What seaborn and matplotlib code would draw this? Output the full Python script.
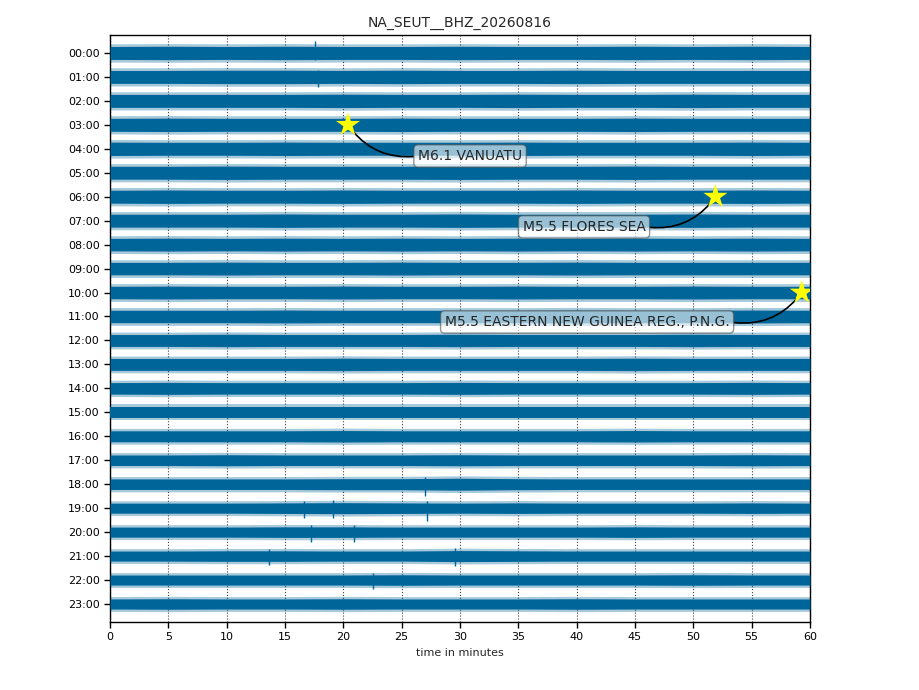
import numpy as np
import pandas as pd
import matplotlib
matplotlib.use("Agg")
import matplotlib.pyplot as plt
import seaborn as sns

# --- data -------------------------------------------------------------------
title = "NA_SEUT__BHZ_20260816"
hour_labels = ["%02d:00" % h for h in range(24)]
knot_minutes = [0, 5, 10, 15, 20, 25, 30, 35, 40, 45, 50, 55, 60]

# half width of the dense core of each hourly trace (in row units), every 5 min
core_width = [
    [0.27, 0.28, 0.27, 0.28, 0.27, 0.27, 0.28, 0.27, 0.27, 0.28, 0.27, 0.28, 0.27],
    [0.27, 0.27, 0.28, 0.28, 0.27, 0.28, 0.27, 0.27, 0.28, 0.27, 0.27, 0.27, 0.27],
    [0.27, 0.27, 0.27, 0.27, 0.28, 0.27, 0.27, 0.28, 0.27, 0.27, 0.28, 0.27, 0.27],
    [0.27, 0.28, 0.27, 0.27, 0.27, 0.28, 0.27, 0.27, 0.27, 0.28, 0.27, 0.27, 0.27],
    [0.28, 0.27, 0.27, 0.28, 0.27, 0.27, 0.27, 0.28, 0.27, 0.27, 0.27, 0.28, 0.27],
    [0.27, 0.27, 0.28, 0.27, 0.27, 0.27, 0.28, 0.27, 0.27, 0.28, 0.27, 0.27, 0.27],
    [0.27, 0.28, 0.27, 0.27, 0.28, 0.27, 0.27, 0.27, 0.28, 0.27, 0.27, 0.28, 0.27],
    [0.27, 0.27, 0.27, 0.28, 0.27, 0.27, 0.28, 0.27, 0.27, 0.27, 0.28, 0.27, 0.27],
    [0.26, 0.27, 0.26, 0.27, 0.26, 0.27, 0.26, 0.27, 0.26, 0.27, 0.26, 0.27, 0.26],
    [0.26, 0.26, 0.27, 0.26, 0.26, 0.27, 0.26, 0.26, 0.27, 0.26, 0.26, 0.26, 0.26],
    [0.26, 0.27, 0.26, 0.26, 0.27, 0.26, 0.26, 0.27, 0.26, 0.26, 0.27, 0.26, 0.26],
    [0.26, 0.26, 0.26, 0.27, 0.26, 0.26, 0.26, 0.26, 0.27, 0.26, 0.26, 0.27, 0.26],
    [0.25, 0.25, 0.26, 0.25, 0.25, 0.25, 0.26, 0.25, 0.25, 0.25, 0.26, 0.25, 0.25],
    [0.25, 0.25, 0.25, 0.25, 0.26, 0.25, 0.25, 0.25, 0.25, 0.26, 0.25, 0.25, 0.25],
    [0.24, 0.25, 0.24, 0.24, 0.24, 0.24, 0.25, 0.24, 0.24, 0.24, 0.24, 0.25, 0.24],
    [0.24, 0.24, 0.24, 0.24, 0.24, 0.24, 0.24, 0.24, 0.24, 0.24, 0.24, 0.24, 0.24],
    [0.23, 0.23, 0.23, 0.23, 0.24, 0.23, 0.23, 0.23, 0.23, 0.24, 0.23, 0.23, 0.23],
    [0.22, 0.22, 0.23, 0.22, 0.22, 0.22, 0.23, 0.22, 0.22, 0.22, 0.22, 0.23, 0.22],
    [0.22, 0.22, 0.22, 0.22, 0.23, 0.23, 0.25, 0.23, 0.22, 0.22, 0.22, 0.22, 0.22],
    [0.21, 0.21, 0.21, 0.22, 0.23, 0.22, 0.21, 0.22, 0.21, 0.21, 0.21, 0.22, 0.21],
    [0.21, 0.21, 0.21, 0.22, 0.22, 0.21, 0.21, 0.21, 0.21, 0.22, 0.21, 0.21, 0.21],
    [0.21, 0.21, 0.22, 0.22, 0.21, 0.21, 0.23, 0.22, 0.21, 0.21, 0.21, 0.21, 0.21],
    [0.21, 0.21, 0.21, 0.21, 0.21, 0.22, 0.21, 0.21, 0.21, 0.21, 0.22, 0.21, 0.21],
    [0.21, 0.22, 0.21, 0.21, 0.22, 0.21, 0.21, 0.21, 0.22, 0.21, 0.21, 0.21, 0.21],
]
# extra half width of the lighter spiky fringe around the core, per row
fringe_extra = [0.11] * 12 + [0.10] * 12

# single spikes visible in the traces: row, minute, low, high (row units)
spike_rows = [0, 1, 18, 19, 19, 19, 20, 20, 21, 21, 22]
spike_minutes = [17.6, 17.8, 27.0, 16.6, 19.1, 27.2, 17.2, 20.9, 13.6, 29.6, 22.5]
spike_low = [-0.30, -0.42, -0.48, -0.40, -0.42, -0.52, -0.40, -0.40, -0.36, -0.42, -0.38]
spike_high = [0.48, 0.30, 0.30, 0.28, 0.36, 0.28, 0.28, 0.28, 0.28, 0.32, 0.28]

# events
event_labels = ["M6.1 VANUATU", "M5.5 FLORES SEA", "M5.5 EASTERN NEW GUINEA REG., P.N.G."]
event_minutes = [20.4, 51.9, 59.3]
event_rows = [3, 6, 10]
event_text_x = [26.4, 45.9, 53.1]
event_text_row = [4.3, 7.26, 11.23]
event_text_ha = ["left", "right", "right"]
event_curve = [-0.3, 0.3, 0.3]

trace_color = "#006699"

# --- plot --------------------------------------------------------------------
sns.set_theme(style="ticks", rc={"axes.edgecolor": "black", "xtick.color": "black",
                                  "ytick.color": "black", "axes.linewidth": 1.0})
plt.rcParams["font.family"] = ["DejaVu Sans"]

fig, ax = plt.subplots(figsize=(9.2, 6.9), dpi=100)
fig.subplots_adjust(left=0.1196, right=0.8804, bottom=0.0986, top=0.9493)

for i in range(24):
    core = np.array(core_width[i])
    outer = core + fringe_extra[i]
    ax.fill_between(knot_minutes, -i - outer, -i + outer, color=trace_color,
                    alpha=0.35, linewidth=0, zorder=2)
    ax.fill_between(knot_minutes, -i - core, -i + core, color=trace_color,
                    linewidth=0, zorder=3)

spikes = pd.DataFrame({"row": spike_rows, "minute": spike_minutes,
                       "low": spike_low, "high": spike_high})
ax.vlines(spikes["minute"], -spikes["row"] + spikes["low"], -spikes["row"] + spikes["high"],
          color=trace_color, linewidth=1.0, zorder=3)

events = pd.DataFrame({"minute": event_minutes, "y": [-r for r in event_rows]})
sns.scatterplot(data=events, x="minute", y="y", marker="*", s=330, color="yellow",
                edgecolor="none", zorder=12, ax=ax, legend=False)

for lab, xm, r, tx, ty, ha, rad in zip(event_labels, event_minutes, event_rows,
                                       event_text_x, event_text_row, event_text_ha,
                                       event_curve):
    rel = (0.0, 0.5) if ha == "left" else (1.0, 0.5)
    ax.annotate(lab, xy=(xm, -r), xytext=(tx, -ty), ha=ha, va="center", fontsize=10,
                bbox=dict(boxstyle="round", fc="w", ec="0.3", alpha=0.6),
                arrowprops=dict(arrowstyle="-", color="black", lw=1.2, relpos=rel,
                                connectionstyle="arc3,rad=%.2f" % rad,
                                shrinkA=0, shrinkB=6),
                zorder=11)

ax.set_xlim(0, 60)
ax.set_ylim(-23.75, 0.75)
ax.set_xticks(range(0, 61, 5))
ax.set_yticks([-i for i in range(24)])
ax.set_yticklabels(hour_labels)
ax.tick_params(labelsize=8, direction="out", length=4, width=1)
ax.xaxis.grid(True, linestyle=":", color="0.25", linewidth=0.8, zorder=0)
ax.set_axisbelow(True)
ax.set_xlabel("time in minutes", fontsize=8)
ax.set_ylabel("")
ax.set_title(title, fontsize=10)

fig.savefig("out.png", dpi=100)
